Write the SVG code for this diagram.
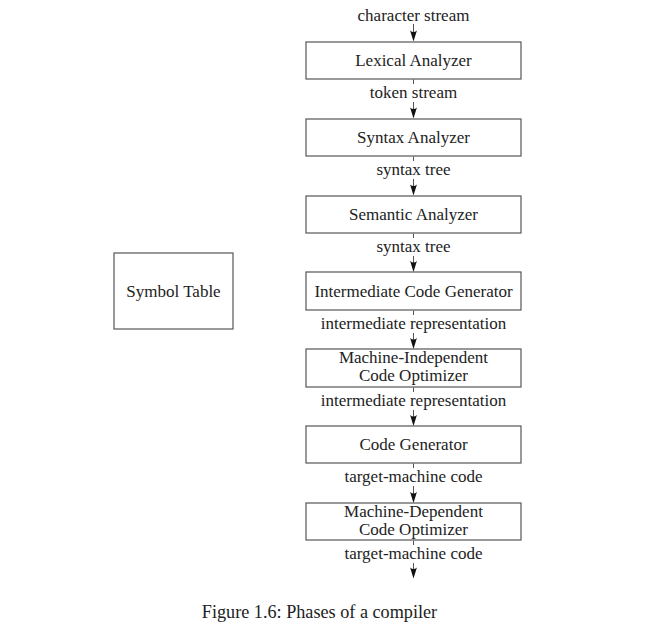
<svg xmlns="http://www.w3.org/2000/svg" xmlns:xlink="http://www.w3.org/1999/xlink" width="670" height="631" viewBox="0 0 670 631">
<style>
.box{fill:#fff;stroke:#555;stroke-width:1.2}
.t{font-family:"Liberation Serif","DejaVu Serif",serif;font-size:17px;fill:#222;text-anchor:middle}
.ln{stroke:#555;stroke-width:1;fill:none}
.cap{font-family:"Liberation Serif","DejaVu Serif",serif;font-size:18.2px;fill:#222;text-anchor:middle}
</style>
<defs>
<path id="ah" d="M0,0 L-3.4,-11 Q0,-8 3.4,-11 Z" fill="#111"/>
</defs>
<rect width="670" height="631" fill="#fff"/>
<g id="connectors">
<line class="ln" x1="413.5" y1="24" x2="413.5" y2="33"/><use xlink:href="#ah" x="413.5" y="41.5"/>
<line class="ln" x1="413.5" y1="79.5" x2="413.5" y2="84"/><line class="ln" x1="413.5" y1="102" x2="413.5" y2="110"/><use xlink:href="#ah" x="413.5" y="118.5"/>
<line class="ln" x1="413.5" y1="156.5" x2="413.5" y2="161"/><line class="ln" x1="413.5" y1="179" x2="413.5" y2="187"/><use xlink:href="#ah" x="413.5" y="195.5"/>
<line class="ln" x1="413.5" y1="233.5" x2="413.5" y2="238"/><line class="ln" x1="413.5" y1="256" x2="413.5" y2="264"/><use xlink:href="#ah" x="413.5" y="272"/>
<line class="ln" x1="413.5" y1="310.5" x2="413.5" y2="315"/><line class="ln" x1="413.5" y1="333" x2="413.5" y2="341"/><use xlink:href="#ah" x="413.5" y="349"/>
<line class="ln" x1="413.5" y1="387.5" x2="413.5" y2="392"/><line class="ln" x1="413.5" y1="410" x2="413.5" y2="418"/><use xlink:href="#ah" x="413.5" y="426"/>
<line class="ln" x1="413.5" y1="463.5" x2="413.5" y2="468"/><line class="ln" x1="413.5" y1="486" x2="413.5" y2="495"/><use xlink:href="#ah" x="413.5" y="503"/>
<line class="ln" x1="413.5" y1="540.5" x2="413.5" y2="545"/><line class="ln" x1="413.5" y1="563" x2="413.5" y2="570"/><use xlink:href="#ah" x="413.5" y="578.5"/>
</g>
<g id="labels">
<text class="t" x="413.5" y="21">character stream</text>
<text class="t" x="413.5" y="98">token stream</text>
<text class="t" x="413.5" y="175">syntax tree</text>
<text class="t" x="413.5" y="252">syntax tree</text>
<text class="t" x="413.5" y="329">intermediate representation</text>
<text class="t" x="413.5" y="406">intermediate representation</text>
<text class="t" x="413.5" y="482">target-machine code</text>
<text class="t" x="413.5" y="559">target-machine code</text>
</g>
<g id="lexical"><rect class="box" x="306" y="42" width="215" height="37"/><text class="t" x="413.5" y="66">Lexical Analyzer</text></g>
<g id="syntax"><rect class="box" x="306" y="119" width="215" height="37"/><text class="t" x="413.5" y="143">Syntax Analyzer</text></g>
<g id="semantic"><rect class="box" x="306" y="196" width="215" height="37"/><text class="t" x="413.5" y="220">Semantic Analyzer</text></g>
<g id="icg"><rect class="box" x="306" y="272" width="215" height="38"/><text class="t" x="413.5" y="296.5">Intermediate Code Generator</text></g>
<g id="mio"><rect class="box" x="306" y="349" width="215" height="38"/><text class="t" x="413.5" y="363">Machine-Independent</text><text class="t" x="413.5" y="380.5">Code Optimizer</text></g>
<g id="codegen"><rect class="box" x="306" y="426" width="215" height="37"/><text class="t" x="413.5" y="450">Code Generator</text></g>
<g id="mdo"><rect class="box" x="306" y="503" width="215" height="37"/><text class="t" x="413.5" y="517">Machine-Dependent</text><text class="t" x="413.5" y="534.5">Code Optimizer</text></g>
<g id="symtab"><rect class="box" x="114" y="253" width="119" height="76"/><text class="t" x="173.5" y="296.5">Symbol Table</text></g>
<text class="cap" x="319.5" y="617.5">Figure 1.6: Phases of a compiler</text>
</svg>
